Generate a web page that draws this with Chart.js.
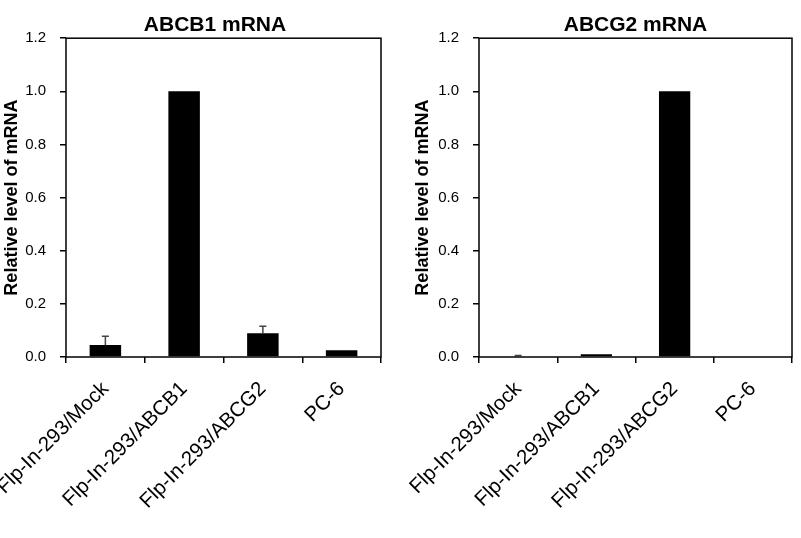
<!DOCTYPE html>
<html>
<head>
<meta charset="utf-8">
<script src="https://cdn.jsdelivr.net/npm/chart.js@4/dist/chart.umd.min.js"></script>
<style>
  html, body { margin: 0; padding: 0; background: #fff; overflow: hidden; }
  #wrap { position: relative; width: 801px; height: 538px; }
  canvas { position: absolute; top: 0; }
</style>
</head>
<body>
<div id="wrap">
  <canvas id="c1" width="430" height="538" style="left:0px"></canvas>
  <canvas id="c2" width="401" height="538" style="left:400px"></canvas>
</div>
<script>
const categories = ['Flp-In-293/Mock', 'Flp-In-293/ABCB1', 'Flp-In-293/ABCG2', 'PC-6'];
const abcb1Values = [0.045, 1.0, 0.089, 0.025];
const abcb1Errors = [0.033, 0, 0.027, 0];
const abcg2Values = [0.003, 0.010, 1.0, 0.0];
const abcg2Errors = [0.003, 0, 0, 0];
const yMin = 0, yMax = 1.2, yStep = 0.2;
const titles = ['ABCB1 mRNA', 'ABCG2 mRNA'];
const yAxisTitle = 'Relative level of mRNA';

const FONT = "'Liberation Sans', Arial, sans-serif";

const errorBarPlugin = {
  id: 'errorBars',
  afterDatasetsDraw(chart) {
    const errs = chart.options.plugins.errorBars.errors;
    const meta = chart.getDatasetMeta(0);
    const ys = chart.scales.y;
    const vals = chart.data.datasets[0].data;
    const ctx = chart.ctx;
    ctx.save();
    ctx.strokeStyle = '#444';
    ctx.lineWidth = 1.5;
    meta.data.forEach((bar, i) => {
      const e = errs[i];
      if (!e) return;
      const x = bar.x;
      const y0 = ys.getPixelForValue(vals[i]);
      const y1 = ys.getPixelForValue(vals[i] + e);
      ctx.beginPath();
      ctx.moveTo(x, y0);
      ctx.lineTo(x, y1);
      ctx.moveTo(x - 3.5, y1);
      ctx.lineTo(x + 3.5, y1);
      ctx.stroke();
    });
    ctx.restore();
  }
};

const framePlugin = {
  id: 'frame',
  afterDraw(chart) {
    const a = chart.chartArea;
    const ctx = chart.ctx;
    ctx.save();
    ctx.strokeStyle = '#000';
    ctx.lineWidth = 1.5;
    ctx.strokeRect(a.left, a.top, a.right - a.left, a.bottom - a.top);
    ctx.restore();
  }
};

function makeChart(id, title, values, errors, opts) {
  return new Chart(document.getElementById(id), {
    type: 'bar',
    data: {
      labels: categories,
      datasets: [{
        data: values,
        backgroundColor: '#000',
        borderWidth: 0,
        barPercentage: 0.8,
        categoryPercentage: 0.5
      }]
    },
    options: {
      responsive: false,
      animation: false,
      devicePixelRatio: 1,
      layout: { padding: { left: opts.padLeft, right: 0, top: 0, bottom: 0 } },
      plugins: {
        legend: { display: false },
        tooltip: { enabled: false },
        errorBars: { errors: errors },
        title: {
          display: true,
          text: title,
          fullSize: opts.titleFull,
          color: '#000',
          font: { family: FONT, size: 21, weight: 'bold', lineHeight: 1.2 },
          padding: { top: 13, bottom: 0 }
        }
      },
      scales: {
        x: {
          border: { display: false },
          grid: { display: true, offset: true, drawOnChartArea: false, drawTicks: true, tickLength: 6, color: '#000', lineWidth: 1.5 },
          ticks: {
            color: '#000',
            font: { family: FONT, size: 20.5 },
            minRotation: 45,
            maxRotation: 45,
            autoSkip: false,
            padding: 14
          },
          afterFit(scale) {
            scale.height = 181;
            scale.paddingLeft = 0;
            scale.paddingRight = 0;
          }
        },
        y: {
          min: yMin,
          max: yMax,
          border: { display: false },
          grid: { display: true, drawOnChartArea: false, drawTicks: true, tickLength: 6, color: '#000', lineWidth: 1.5 },
          ticks: {
            stepSize: yStep,
            color: '#000',
            font: { family: FONT, size: 15 },
            padding: 14,
            callback: (v) => Number(v).toFixed(1)
          },
          title: {
            display: true,
            text: yAxisTitle,
            color: '#000',
            font: { family: FONT, size: 18, weight: 'bold', lineHeight: 1.2 },
            padding: { top: 1, bottom: 0 }
          },
          afterFit(scale) {
            scale.width = opts.yWidth;
            scale.paddingTop = 0;
            scale.paddingBottom = 0;
          }
        },
        yRightSpace: {
          position: 'right',
          display: true,
          min: yMin,
          max: yMax,
          border: { display: false },
          grid: { display: false },
          ticks: { display: false },
          afterFit(scale) {
            scale.width = opts.rightSpace;
            scale.paddingTop = 0;
            scale.paddingBottom = 0;
          }
        }
      }
    },
    plugins: [errorBarPlugin, framePlugin]
  });
}

makeChart('c1', titles[0], abcb1Values, abcb1Errors, { padLeft: 0, rightSpace: 49, yWidth: 66, titleFull: true });
makeChart('c2', titles[1], abcg2Values, abcg2Errors, { padLeft: 11, rightSpace: 9, yWidth: 68, titleFull: false });
</script>
</body>
</html>
